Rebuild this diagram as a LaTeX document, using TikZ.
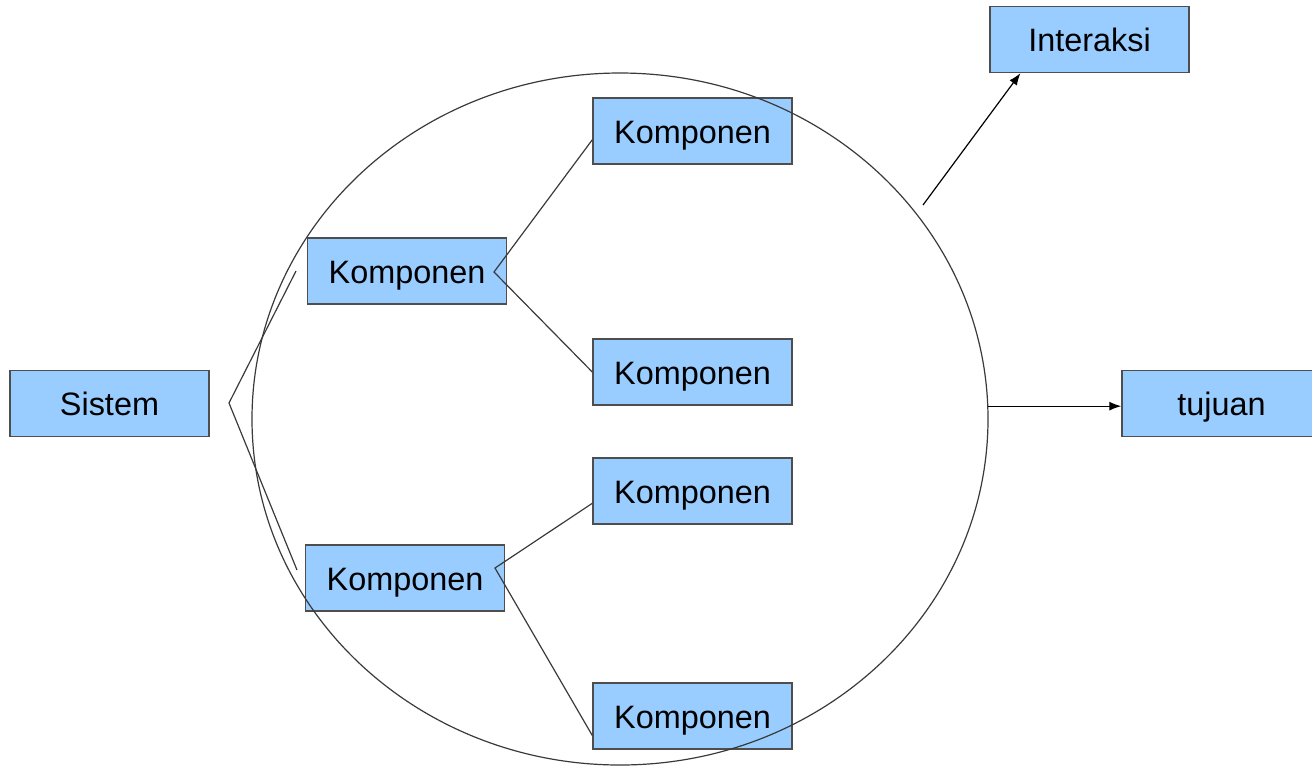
\documentclass[tikz,border=0pt]{standalone}
\usepackage{fontspec}
\setmainfont{Liberation Sans}
\usepackage{tikz}
\usetikzlibrary{arrows.meta,shapes.geometric}

\definecolor{kotak}{HTML}{99CCFF}
\definecolor{garis}{HTML}{3A3A3A}

\tikzset{
  blok/.style={draw=garis!90, fill=kotak, line width=0.7pt, rectangle,
    minimum width=99.5pt, minimum height=33pt, inner sep=0pt,
    text height=12pt, text depth=0pt,
    font=\fontsize{16.2}{19}\selectfont},
  hubung/.style={draw=garis, line width=0.6pt}
}

\begin{document}
\begin{tikzpicture}[x=0.5pt,y=-0.5pt,>={Latex[length=6pt,width=4.5pt]},
        line join=miter]

  \useasboundingbox (0,0) rectangle (1312,768);

  \node[blok] (sistem)   at (109.5,403.5) {Sistem};
  \node[blok] (k1)       at (407,271)     {Komponen};
  \node[blok] (k2)       at (405,578)     {Komponen};
  \node[blok] (k3)       at (692.5,131)   {Komponen};
  \node[blok] (k4)       at (692.5,372)   {Komponen};
  \node[blok] (k5)       at (692.5,491)   {Komponen};
  \node[blok] (k6)       at (692.5,716)   {Komponen};
  \node[blok] (interaksi) at (1089.5,39.5) {Interaksi};
  \node[blok] (tujuan)   at (1221.5,403.5) {tujuan};

  % lingkaran sistem
  \node[draw=garis, line width=0.6pt, ellipse, inner sep=0pt,
        minimum width=368pt, minimum height=346pt] (sys) at (620,419) {};

  % kurung
  \coordinate (sv) at (229,403);
  \coordinate (s1) at (296,271);
  \coordinate (s2) at (297,570);
  \coordinate (v1) at (494,272);
  \coordinate (v2) at (495,568);
  \draw[hubung] (s1) -- (sv) -- (s2);
  \draw[hubung] (k3.185) -- (v1) -- (k4.west);
  \draw[hubung] (k5.187) -- (v2) -- (k6.191);

  % panah keluar
  \coordinate (ia) at (923,205);
  \path[->, black, line width=0.6pt]
        (ia) edge (interaksi.206.6)
        (sys.2.5) edge (sys.2.5 -| tujuan.west);

\end{tikzpicture}
\end{document}
